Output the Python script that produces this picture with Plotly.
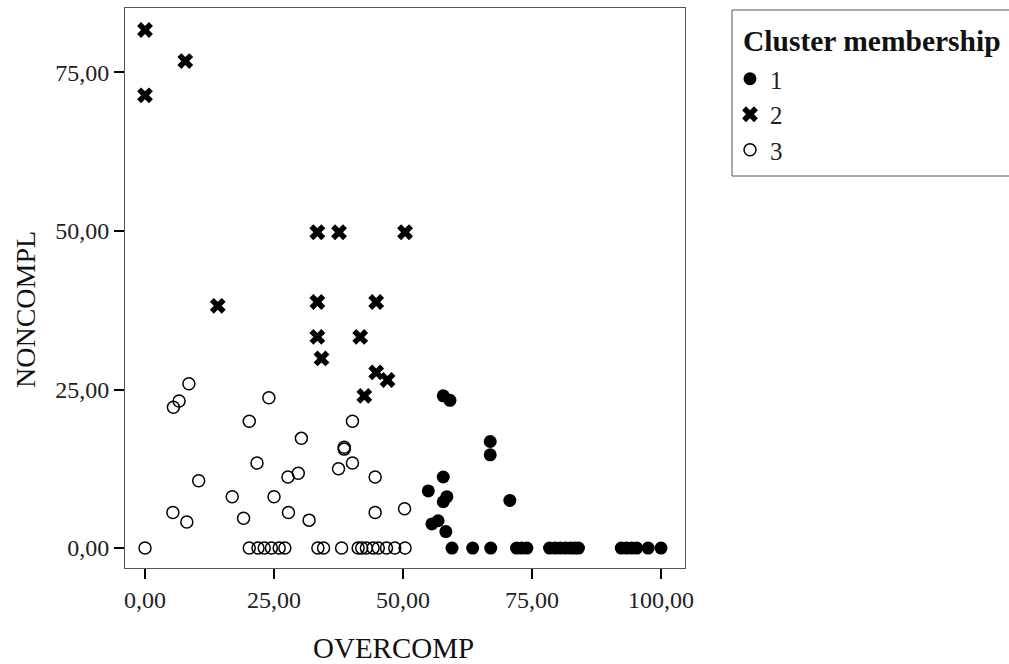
import plotly.graph_objects as go

# Cluster 1 (filled circles)
c1_over = [57.8, 59.1, 66.9, 66.9, 57.8, 54.9, 58.5, 57.8, 70.7, 55.6, 56.8, 58.3,
           59.5, 63.5, 67.0, 72.0, 73.0, 74.0, 78.4, 79.5, 80.5, 81.5, 82.5, 83.3, 84.0,
           92.3, 93.3, 94.3, 95.3, 97.5, 100.0]
c1_non = [24.0, 23.3, 16.8, 14.7, 11.2, 9.0, 8.1, 7.3, 7.5, 3.8, 4.3, 2.6,
          0, 0, 0, 0, 0, 0, 0, 0, 0, 0, 0, 0, 0,
          0, 0, 0, 0, 0, 0]

# Cluster 2 (crosses)
c2_over = [0.0, 0.0, 7.8, 14.1, 33.4, 37.6, 50.4, 33.4, 44.8, 33.4, 41.7, 34.2, 44.8, 47.0, 42.5]
c2_non = [81.7, 71.4, 76.8, 38.2, 49.8, 49.8, 49.8, 38.8, 38.8, 33.3, 33.3, 29.9, 27.7, 26.5, 24.0]

# Cluster 3 (open circles)
c3_over = [8.5, 6.6, 5.5, 24.0, 20.2, 40.2, 30.3, 38.6, 38.6, 21.7, 40.2, 37.5, 29.7, 27.7,
           44.6, 10.4, 16.9, 25.0, 5.4, 27.8, 44.6, 50.3, 8.1, 19.1, 31.8,
           0.0, 20.2, 21.9, 23.1, 24.5, 26.0, 27.1, 33.5, 34.6, 38.1, 41.3, 42.0, 42.9,
           44.2, 45.2, 46.8, 48.4, 50.4]
c3_non = [25.9, 23.2, 22.2, 23.7, 20.0, 20.0, 17.3, 15.9, 15.6, 13.4, 13.4, 12.5, 11.8, 11.2,
          11.2, 10.6, 8.1, 8.1, 5.6, 5.6, 5.6, 6.2, 4.1, 4.7, 4.4,
          0, 0, 0, 0, 0, 0, 0, 0, 0, 0, 0, 0, 0,
          0, 0, 0, 0, 0]

x_ticks = [0, 25, 50, 75, 100]
y_ticks = [0, 25, 50, 75]

FONT = "Liberation Serif"

fig = go.Figure()
fig.add_trace(go.Scatter(x=c1_over, y=c1_non, mode="markers", name="1", legendgroup="g1",
                         marker=dict(symbol="circle", size=13, color="black")))
fig.add_trace(go.Scatter(x=c2_over, y=c2_non, mode="markers", name="2", legendgroup="g2",
                         marker=dict(symbol="x", size=14, color="black")))
fig.add_trace(go.Scatter(x=c3_over, y=c3_non, mode="markers", name="3", legendgroup="g3",
                         marker=dict(symbol="circle-open", size=12, color="black",
                                     line=dict(width=1.5, color="black"))))

axis_common = dict(showgrid=False, zeroline=False, showline=True, linecolor="#555555",
                   linewidth=1, mirror=True, ticks="outside", ticklen=10, tickwidth=2,
                   tickcolor="black", tickformat=".2f",
                   tickfont=dict(family=FONT, size=24, color="#222222"))

fig.update_layout(
    width=1009, height=664,
    margin=dict(l=125, r=324, t=8, b=96),
    paper_bgcolor="white", plot_bgcolor="white",
    separators=",.",
    xaxis=dict(range=[-3.88, 104.65], tickvals=x_ticks, **axis_common),
    yaxis=dict(range=[-3.15, 85.17], tickvals=y_ticks, **axis_common),
    showlegend=True,
    legend=dict(x=(730 - 125) / 560, y=(568 - 56) / 560, xanchor="left", yanchor="top",
                font=dict(family=FONT, size=25, color="#222222"),
                tracegroupgap=0, bgcolor="rgba(0,0,0,0)", borderwidth=0),
    annotations=[
        dict(text="OVERCOMP", x=(393 - 125) / 560, y=(568 - 648) / 560, xref="paper",
             yref="paper", showarrow=False, xanchor="center", yanchor="middle",
             font=dict(family=FONT, size=29, color="#111111")),
        dict(text="NONCOMPL", x=(25 - 125) / 560, y=(568 - 310) / 560, xref="paper",
             yref="paper", showarrow=False, xanchor="center", yanchor="middle",
             textangle=-90, font=dict(family=FONT, size=28, color="#111111")),
        dict(text="<b>Cluster membership</b>", x=(741 - 125) / 560, y=(568 - 41) / 560,
             xref="paper", yref="paper", showarrow=False, xanchor="left", yanchor="middle",
             font=dict(family=FONT, size=29.5, color="#111111")),
    ],
    shapes=[dict(type="rect", xref="paper", yref="paper",
                 x0=(732 - 125) / 560, x1=(1020 - 125) / 560,
                 y0=(568 - 176) / 560, y1=(568 - 10) / 560,
                 line=dict(color="#555555", width=1), fillcolor="rgba(0,0,0,0)")],
)

fig.write_html("out.html")
